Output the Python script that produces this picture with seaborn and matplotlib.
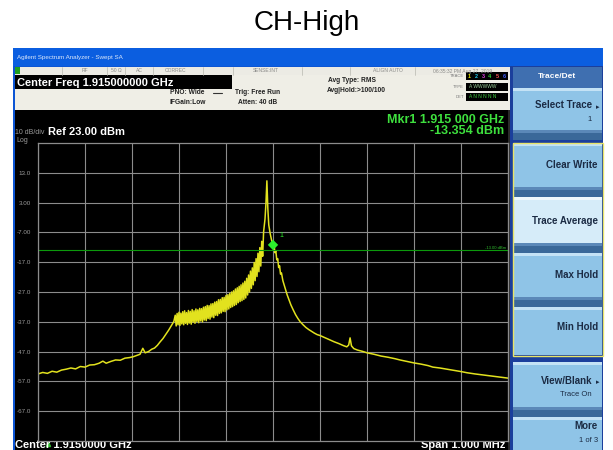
import matplotlib
matplotlib.use("Agg")
import matplotlib.pyplot as plt
import numpy as np
import pandas as pd
import seaborn as sns
from matplotlib.patches import Rectangle

# sweep settings
ref_dbm = 23.0
db_per_div = 10
span_khz = 1000
display_line_dbm = -13.0
y_tick_labels = ["13.0", "3.00", "-7.00", "-17.0", "-27.0", "-37.0", "-47.0", "-57.0", "-67.0"]

# trace 1 (kHz offset from 1.915 GHz, dBm)
floor_khz = [-500, -490, -480, -470, -460, -450, -440, -430, -420, -410, -400, -390,
             -380, -370, -362, -355, -345, -335, -325, -315, -305, -297, -290, -283,
             -277, -272, -265, -258, -252, -246, -240, -234, -228, -222, -216, -211]
floor_dbm = [-54.5, -54.0, -54.3, -53.6, -53.9, -53.2, -52.9, -52.5, -52.8, -52.0, -52.2, -51.5,
             -51.4, -50.9, -50.2, -50.9, -50.3, -49.8, -49.9, -49.2, -49.0, -48.7, -48.3, -47.9,
             -45.9, -47.4, -47.0, -46.2, -45.8, -44.9, -43.7, -42.6, -41.2, -39.8, -38.2, -36.9]

# noisy shoulder: the trace swings between top and bottom of the band
shoulder_khz = [-208, -206, -204, -202, -200, -198, -196, -194, -192, -190, -188, -186,
                -184, -182, -180, -178, -176, -174, -172, -170, -168, -166, -164, -162,
                -160, -158, -156, -154, -152, -150, -148, -146, -144, -142, -140, -138,
                -136, -134, -132, -130, -128, -126, -124, -122, -120, -118, -116, -114,
                -112, -110, -108, -106, -104, -102, -100, -98, -96, -94, -92, -90,
                -88, -86, -84, -82, -80, -78, -76, -74, -72, -70, -68, -66,
                -64, -62, -60, -58, -56, -54, -52, -50, -48, -46, -44, -42,
                -40, -38, -36, -34, -32, -30, -28, -26, -24, -22]
shoulder_dbm = [-34.8, -38.4, -34.2, -38.0, -33.8, -38.2, -34.1, -37.7, -33.6, -38.0, -33.3, -37.5,
                -33.9, -37.9, -33.2, -37.4, -33.5, -37.8, -32.9, -37.1, -33.3, -37.5, -32.7, -36.9,
                -33.0, -37.3, -32.5, -36.7, -32.6, -37.0, -32.1, -36.4, -31.9, -36.6, -31.5, -35.9,
                -31.6, -36.1, -31.0, -35.4, -30.9, -35.6, -30.4, -34.8, -30.2, -34.9, -29.6, -34.2,
                -29.5, -34.0, -28.9, -33.5, -28.8, -33.6, -28.2, -33.0, -27.9, -32.7, -27.5, -32.2,
                -27.0, -31.9, -26.6, -31.5, -26.0, -31.2, -25.6, -30.6, -25.1, -30.2, -24.6, -29.9,
                -24.0, -29.5, -23.4, -29.0, -22.4, -28.0, -21.3, -27.0, -20.0, -25.8, -18.9, -24.6,
                -17.1, -23.2, -15.8, -21.8, -14.0, -20.2, -12.1, -18.3, -10.0, -15.0]

carrier_khz = [-20, -17, -15, -13, -11, -9, -6, -3, 0, 2, 4, 6, 8, 10, 12, 14, 16, 18,
               21, 24, 27, 30]
carrier_dbm = [-6.8, -2.5, 2.8, 10.3, 1.0, -4.5, -7.4, -9.6, -11.2, -10.6, -13.8, -13.2,
               -16.2, -15.8, -18.8, -18.2, -21.0, -20.6, -23.2, -24.8, -26.4, -27.9]

skirt_khz = [34, 38, 43, 48, 53, 58, 64, 70, 76, 82, 88, 94, 100, 110, 120, 130, 140, 150,
             157, 161, 164, 167, 172, 180, 190, 200, 215, 230, 245, 260, 270, 285, 300, 315,
             330, 340, 355, 370, 385, 400, 413, 430, 445, 460, 475, 490, 500]
skirt_dbm = [-29.6, -31.3, -33.0, -34.6, -35.9, -37.0, -38.0, -38.9, -39.6, -40.2, -40.8, -41.3,
             -41.6, -42.3, -43.0, -43.7, -44.3, -45.0, -45.4, -44.8, -42.4, -45.1, -46.0, -46.5,
             -46.9, -47.4, -47.9, -48.5, -48.9, -49.4, -49.8, -50.3, -50.8, -51.2, -51.7, -52.2,
             -52.5, -52.9, -53.3, -53.7, -54.1, -54.5, -54.8, -55.1, -55.4, -55.7, -55.9]

marker_khz = 0

softkeys = [("Select Trace", "1"), ("Clear Write", None), ("Trace Average", None),
            ("Max Hold", None), ("Min Hold", None), ("View/Blank", "Trace On"), ("More", "1 of 3")]

trace = pd.DataFrame({
    "freq_khz": floor_khz + shoulder_khz + carrier_khz + skirt_khz,
    "level_dbm": floor_dbm + shoulder_dbm + carrier_dbm + skirt_dbm,
})

sns.set_theme(style="darkgrid", rc={"axes.facecolor": "black", "grid.color": "#8c8c8c"})
plt.rcParams["font.family"] = ["Liberation Sans", "DejaVu Sans"]

fig = plt.figure(figsize=(6.13, 4.5), dpi=100)
fig.patch.set_facecolor("white")

# screen chrome drawn in pixel coordinates
ui = fig.add_axes([0, 0, 1, 1], zorder=0)
ui.set_xlim(0, 613)
ui.set_ylim(450, 0)
ui.axis("off")


def box(x, y, w, h, color, **kw):
    ui.add_patch(Rectangle((x, y), w, h, facecolor=color, edgecolor="none", **kw))


ui.text(306.5, 30, "CH-High", ha="center", va="baseline", fontsize=20, color="black")

box(13, 48, 590, 402, "#0c55d4")                    # frame
box(13, 48, 590, 18, "#0b5ee0")                     # title bar
ui.text(17, 57, "Agilent Spectrum Analyzer - Swept SA", fontsize=4.5, color="white",
        va="center", alpha=0.85)
box(15, 67, 495, 8, "#ecebe4")                      # status row
box(15, 67, 5, 7, "#1f9e1f")
for sx in [62, 107, 125, 153, 203, 233, 302, 350, 415]:
    ui.plot([sx, sx], [67, 75], color="#b8b8b0", lw=0.5)
for sx, s in [(85, "RF"), (116, "50 Ω"), (139, "AC"), (176, "CORREC"), (266, "SENSE:INT"),
              (388, "ALIGN AUTO"), (463, "06:35:32 PM Aug 27, 2019")]:
    ui.text(sx, 71, s, fontsize=3.6, color="#8a8a88", ha="center", va="center")

box(15, 75, 495, 35, "#efeee6")                     # info panel
box(15, 75, 217, 14, "black")
ui.text(17, 82.5, "Center Freq 1.915000000 GHz", fontsize=8, fontweight="bold", color="white",
        va="center")
for tx, ty, s in [(170, 93, "PNO: Wide"), (170, 103, "IFGain:Low"), (235, 92, "Trig: Free Run"),
                  (238, 103, "Atten: 40 dB"), (328, 81, "Avg Type: RMS"),
                  (327, 90, "Avg|Hold:>100/100")]:
    ui.text(tx, ty, s, fontsize=4.8, fontweight="bold", color="#222", va="center")
ui.plot([213, 222], [93, 93], color="#333", lw=0.8)
for ty, s in [(76, "TRACE"), (87, "TYPE"), (97, "DET")]:
    ui.text(464, ty, s, fontsize=3, color="#777", ha="right", va="center")
    box(466, ty - 4, 42, 8, "black")
for i, c in enumerate(["#e6e600", "#22c8e8", "#e040e0", "#30d030", "#f05050", "#4060ff"]):
    ui.text(469 + i * 7, 76, str(i + 1), fontsize=4, fontweight="bold", color=c,
            ha="center", va="center")
ui.text(469, 87, "A WWWWW", fontsize=3.5, color="#9ad09a", va="center", ha="left")
ui.text(469, 97, "A N N N N N", fontsize=3.5, color="#40d040", va="center", ha="left")

box(15, 110, 495, 340, "black")                     # display
box(508, 110, 5, 340, "#2a2a2a")
ui.text(15, 132, "10 dB/div", fontsize=5, color="#9a9a9a", va="center")
ui.text(16, 141, "Log", fontsize=5, color="#9a9a9a", va="center")
ui.text(48, 132, "Ref 23.00 dBm", fontsize=8, fontweight="bold", color="white", va="center")
ui.text(504, 120, "Mkr1 1.915 000 GHz", fontsize=9, fontweight="bold", color="#3ee03e",
        ha="right", va="center")
ui.text(504, 131, "-13.354 dBm", fontsize=9, fontweight="bold", color="#3ee03e",
        ha="right", va="center")
ui.text(15, 445.5, "Center 1.9150000 GHz", fontsize=8, fontweight="bold", color="white",
        va="center")
ui.text(505, 445.5, "Span 1.000 MHz", fontsize=8, fontweight="bold", color="white",
        ha="right", va="center")
ui.plot([48], [443.5], marker="^", ms=3, color="#30c030")

# softkey panel
box(510, 66, 93, 384, "#1b3f9c")
box(513, 67, 89, 21, "#3f6fb0")
ui.text(557, 77, "Trace/Det", fontsize=6, fontweight="bold", color="white",
        ha="center", va="center")
key_rows = [(88, 140), (143, 197), (197, 253), (253, 307), (307, 355), (362, 417), (417, 452)]
for (label, sub), (y0, y1) in zip(softkeys, key_rows):
    fill = "#d6ecf9" if label == "Trace Average" else "#8fc4e7"
    box(513, y0, 89, y1 - y0, fill)
    box(513, y0, 89, 3, "#c4e2f5" if fill == "#8fc4e7" else "#eef7fc")
    if label not in ("Min Hold", "More"):
        box(513, y1 - 10, 89, 4, "#5b88b8")
        box(513, y1 - 7, 89, 7, "#3a6899")
    yc = (y0 + y1 - 9) / 2 - (4 if sub else 0)
    right = 592 if label in ("Select Trace", "View/Blank") else 598
    ui.text(right, yc, label, fontsize=7, fontweight="bold", color="#1b2b44",
            ha="right", va="center")
    if label in ("Select Trace", "View/Blank"):
        ui.text(599, yc + 2, "\u25b8", fontsize=5, color="#1b2b44", ha="right", va="center")
    if sub:
        ui.text(right, yc + 14, sub, fontsize=5.5, color="#1b2b44", ha="right", va="center")
ui.add_patch(Rectangle((512.5, 142.5), 90, 213, facecolor="none", edgecolor="#e8e46a", lw=1.0))

# graticule and trace
ax = fig.add_axes([38 / 613, 9 / 450, 470 / 613, 298 / 450], zorder=1)
ax.set_facecolor("black")
sns.lineplot(data=trace, x="freq_khz", y="level_dbm", color="#e2e21e", lw=1.1,
             estimator=None, sort=False, legend=False, ax=ax)
ax.axhline(display_line_dbm, color="#0c9a0c", lw=0.8)
ax.text(497, display_line_dbm + 0.6, "-13.00 dBm", fontsize=3, color="#30c030",
        ha="right", va="center")
marker_dbm = trace.loc[trace["freq_khz"] == marker_khz, "level_dbm"].iloc[0]
sns.scatterplot(x=[marker_khz], y=[marker_dbm], marker="D", s=28, color="#2cf02c",
                edgecolor="none", ax=ax, zorder=5)
ax.text(marker_khz + 18, marker_dbm + 3, "1", fontsize=5, color="#2cf02c",
        ha="center", va="center")

half = span_khz / 2
ax.set_xlim(-half, half)
ax.set_ylim(ref_dbm - 10 * db_per_div, ref_dbm)
ax.set_xticks(np.linspace(-half, half, 11))
ax.set_xticklabels([])
ax.set_yticks([float(t) for t in y_tick_labels])
ax.set_yticklabels(y_tick_labels, fontsize=4.5, color="#9a9a9a")
ax.tick_params(length=0, pad=5)
ax.grid(True, color="#8c8c8c", lw=0.8)
for sp in ax.spines.values():
    sp.set_visible(True)
    sp.set_color("#8c8c8c")
    sp.set_linewidth(0.9)
ax.set_xlabel("")
ax.set_ylabel("")

fig.savefig("out.png", dpi=100)
